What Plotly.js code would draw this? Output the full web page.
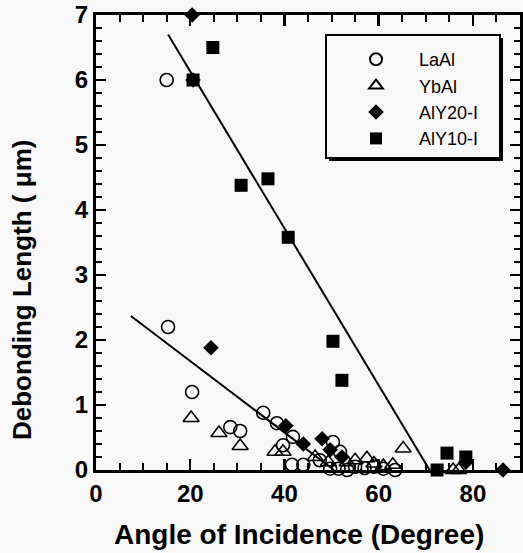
<!DOCTYPE html>
<html>
<head>
<meta charset="utf-8">
<script src="https://cdn.plot.ly/plotly-3.0.1.min.js"></script>
<style>html,body{margin:0;padding:0;background:#f8f8f8;}</style>
</head>
<body>
<div id="chart" style="width:523px;height:553px;"></div>
<script>
// ---- data ----
const seriesNames = ["LaAl", "YbAl", "AlY20-I", "AlY10-I"];

const laalX = [15, 15.3, 20.4, 28.5, 30.6, 35.5, 38.4, 39.7, 41.8, 41.6, 44, 50.3, 51.8, 47.5, 49.7, 51.5, 53.3, 55, 57, 59, 61, 63.5];
const laalY = [6.0, 2.2, 1.2, 0.66, 0.6, 0.88, 0.72, 0.38, 0.51, 0.08, 0.08, 0.43, 0.28, 0.15, 0.02, 0.02, 0.0, 0.05, 0.03, 0.05, 0.02, 0.0];

const ybalX = [20.2, 26.1, 30.6, 38, 39.7, 46.5, 49.3, 53.3, 55, 57.5, 59, 61, 63, 65.2, 75.8, 77];
const ybalY = [0.8, 0.57, 0.37, 0.28, 0.28, 0.2, 0.12, 0.12, 0.15, 0.18, 0.1, 0.06, 0.08, 0.33, 0.0, 0.0];

const aly20X = [20.4, 20.6, 24.4, 40.3, 44, 48, 49.7, 52.2, 78.5, 86.4];
const aly20Y = [7.0, 6.0, 1.88, 0.68, 0.4, 0.48, 0.31, 0.2, 0.12, 0.0];

const aly10X = [20.6, 24.8, 30.8, 36.5, 40.8, 50.3, 52.2, 72.4, 74.5, 78.5];
const aly10Y = [6.0, 6.5, 4.38, 4.48, 3.58, 1.98, 1.38, 0.0, 0.26, 0.2];

// fitted trend lines (end points)
const fitSteepX = [15.3, 70.8];
const fitSteepY = [6.7, 0.0];
const fitShallowX = [7.4, 50.5];
const fitShallowY = [2.37, 0.0];

const xTickVals = [0, 20, 40, 60, 80];
const yTickVals = [0, 1, 2, 3, 4, 5, 6, 7];
const xTitle = "Angle of Incidence (Degree)";
const yTitle = "Debonding Length ( \u03bcm)";

// ---- traces ----
const FONT = "Liberation Sans, Arial, sans-serif";
const mk = (sym, size, lw) => ({symbol: sym, size: size, color: "#000", line: {color: "#000", width: lw}});
const traces = [
  {x: fitSteepX, y: fitSteepY, mode: "lines", line: {color: "#000", width: 2}, showlegend: false, hoverinfo: "skip"},
  {x: fitShallowX, y: fitShallowY, mode: "lines", line: {color: "#000", width: 2}, showlegend: false, hoverinfo: "skip"},
  {x: laalX, y: laalY, name: seriesNames[0], mode: "markers", marker: mk("circle-open", 13, 1.6), legendgroup: "a", cliponaxis: false},
  {x: ybalX, y: ybalY, name: seriesNames[1], mode: "markers", marker: mk("triangle-up-open", 14, 1.6), legendgroup: "b", cliponaxis: false},
  {x: aly20X, y: aly20Y, name: seriesNames[2], mode: "markers", marker: mk("diamond", 12, 0), legendgroup: "c", cliponaxis: false},
  {x: aly10X, y: aly10Y, name: seriesNames[3], mode: "markers", marker: mk("square", 13, 0), legendgroup: "d", cliponaxis: false}
];

const axisFont = {family: FONT, size: 24, color: "#000", weight: "bold"};
// px helpers for paper coordinates (plot area 96..520 x 15..470)
const px = v => (v - 96) / 424;
const py = v => (470 - v) / 455;

const layout = {
  width: 523, height: 553,
  paper_bgcolor: "#f8f8f8", plot_bgcolor: "#f8f8f8",
  margin: {l: 96, r: 3, t: 15, b: 83},
  showlegend: true,
  legend: {
    x: px(333), y: py(41), xanchor: "left", yanchor: "top",
    bgcolor: "rgba(0,0,0,0)", borderwidth: 0,
    font: {family: FONT, size: 18, color: "#000"},
    itemwidth: 76, itemsizing: "constant", tracegroupgap: 0, traceorder: "normal"
  },
  shapes: [
    {type: "rect", xref: "paper", yref: "paper", x0: px(329), x1: px(503), y0: py(161), y1: py(38),
     fillcolor: "#000", line: {width: 0}, layer: "below"},
    {type: "rect", xref: "paper", yref: "paper", x0: px(326), x1: px(500), y0: py(158), y1: py(35),
     fillcolor: "#f8f8f8", line: {color: "#000", width: 2}, layer: "below"}
  ],
  annotations: [
    {text: xTitle, xref: "paper", yref: "paper", x: px(299), y: py(534), xanchor: "center", yanchor: "middle",
     showarrow: false, font: {family: FONT, size: 28, color: "#000", weight: "bold"}},
    {text: yTitle, xref: "paper", yref: "paper", x: px(22), y: py(290), xanchor: "center", yanchor: "middle",
     textangle: -90, showarrow: false, font: {family: FONT, size: 26, color: "#000", weight: "bold"}}
  ],
  xaxis: {
    range: [0, 90], tickvals: xTickVals, ticks: "inside", ticklen: 11, tickwidth: 2.5, tickcolor: "#000",
    minor: {dtick: 5, ticks: "inside", ticklen: 7, tickwidth: 2, tickcolor: "#000"},
    showline: true, linewidth: 3, linecolor: "#000", mirror: "ticks",
    showgrid: false, zeroline: false, tickfont: axisFont
  },
  yaxis: {
    range: [0, 7], tickvals: yTickVals, ticks: "inside", ticklen: 10, tickwidth: 2.5, tickcolor: "#000",
    minor: {dtick: 0.2, ticks: "inside", ticklen: 6, tickwidth: 2, tickcolor: "#000"},
    showline: true, linewidth: 3, linecolor: "#000", mirror: "ticks",
    showgrid: false, zeroline: false, tickfont: axisFont
  }
};

Plotly.newPlot("chart", traces, layout, {displayModeBar: false, staticPlot: true});
</script>
</body>
</html>
